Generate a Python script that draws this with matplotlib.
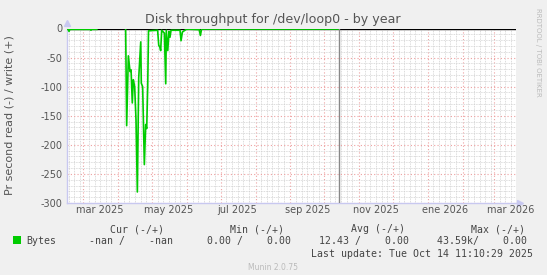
import numpy as np
import pandas as pd
import matplotlib
matplotlib.use("Agg")
from matplotlib import pyplot as plt
import matplotlib.dates as mdates

# days since 2025-03-01 and read throughput (drawn negative)
base_date = pd.Timestamp("2025-03-01")
day_offset = [-14.5, -13.5, -12.7, -12.0, -8.0, -2.0, 3.0, 6.0, 6.8, 7.5, 12.0, 12.5,
              37.6, 38.5, 40.0, 41.5, 42.4, 43.5, 44.4, 45.6, 46.8, 48.0, 49.2, 51.0,
              51.5, 52.7, 54.2, 55.4, 56.3, 57.2, 57.9, 66.0, 67.0, 68.0, 68.7, 69.6,
              72.0, 73.2, 73.7, 75.0, 76.1, 77.0, 77.9, 85.9, 86.8, 88.0, 91.8, 103.0,
              104.0, 105.0, 150.0, 227.0]
read_bytes = [-1.5, -1.5, -5, -1.5, -1.5, -1.5, -1.5, -1.5, -3, -1.5, -1.5, np.nan,
              -1, -167, -47, -74, -71, -128, -88, -100, -157, -281, -85, -23,
              -94, -100, -234, -165, -172, -98, -4, -3, -29, -32, -38, -3,
              -8, -95, -3, -38, -5, -15, -3, -3, -21, -6, -1, -2,
              -12, -1, -1, -1]

x_start = "2025-02-14 12:00"
x_end = "2026-03-20 08:00"
last_update = "2025-10-14 11:10"

month_labels = ["mar 2025", "may 2025", "jul 2025", "sep 2025", "nov 2025", "ene 2026", "mar 2026"]
month_label_dates = ["2025-03-16", "2025-05-16", "2025-07-16", "2025-09-16",
                     "2025-11-16", "2026-01-16", "2026-03-16"]
y_ticks = [0, -50, -100, -150, -200, -250, -300]

legend_headers = ["Cur (-/+)", "Min (-/+)", "Avg (-/+)", "Max (-/+)"]
legend_values = ["-nan /    -nan", "0.00 /    0.00", "12.43 /    0.00", "43.59k/    0.00"]

W, H = 547, 275
BG = "#f0f0f0"
GREEN = "#00cc00"
TXT = "#555555"


def px(x, y):
    return x / W, 1 - y / H


fig = plt.figure(figsize=(W / 100, H / 100), dpi=100, facecolor=BG)
ax = fig.add_axes([67 / W, 72 / H, 449 / W, 174.5 / H])
ax.set_facecolor("white")

dates = base_date + pd.to_timedelta(day_offset, unit="D")
x0, x1 = pd.Timestamp(x_start), pd.Timestamp(x_end)

# grid
ax.xaxis.set_major_locator(mdates.MonthLocator())
ax.xaxis.set_minor_locator(mdates.DayLocator(bymonthday=[6, 11, 16, 21, 26]))
ax.set_yticks(y_ticks)
ax.set_yticks(np.arange(-300, 1, 10), minor=True)
ax.grid(which="minor", color="#d0d0d0", linestyle=(0, (1, 1)), linewidth=0.6)
ax.grid(which="major", color="#eea0a0", linestyle=(0, (1, 2)), linewidth=0.8)
ax.set_axisbelow(True)

ax.axhline(0, color="black", linewidth=1.0, zorder=2)
ax.plot(dates, read_bytes, color=GREEN, linewidth=1.2, zorder=3)
ax.axvline(pd.Timestamp(last_update), color="#888888", linewidth=1.0, zorder=3)

ax.set_xlim(x0, x1)
ax.set_ylim(-300, 0)

ax.tick_params(which="both", length=0, labelsize=7, colors=TXT, pad=3)
ax.xaxis.set_major_formatter(plt.NullFormatter())
ax.set_yticklabels([str(v) for v in y_ticks])
for lab, d in zip(month_labels, month_label_dates):
    ax.text(pd.Timestamp(d), -304, lab, ha="center", va="top", fontsize=7, color=TXT)

for side in ["top", "right"]:
    ax.spines[side].set_visible(False)
for side in ["left", "bottom"]:
    ax.spines[side].set_color("#c8c8f0")
    ax.spines[side].set_linewidth(1.0)
ax.plot([0], [1.03], marker="^", color="#c8c8f0", markersize=4, transform=ax.transAxes, clip_on=False)
ax.plot([1.008], [0], marker=">", color="#c8c8f0", markersize=4, transform=ax.transAxes, clip_on=False)

fig.text(*px(273, 19), "Disk throughput for /dev/loop0 - by year", ha="center", va="center",
         fontsize=9.1, color=TXT)
fig.text(*px(10, 115), "Pr second read (-) / write (+)", ha="center", va="center",
         rotation=90, fontsize=8, color=TXT)
fig.text(*px(538, 52), "RRDTOOL / TOBI OETIKER", ha="center", va="center",
         rotation=270, fontsize=5, color="#bbbbbb")

mono = dict(family="DejaVu Sans Mono", fontsize=7.1, color="#444444", va="center")
for hdr, right in zip(legend_headers, [164, 284, 405, 525]):
    fig.text(*px(right, 229), hdr, ha="right", **mono)
fig.patches.append(plt.Rectangle(px(13, 244), 8 / W, 8 / H, transform=fig.transFigure,
                                 facecolor=GREEN, edgecolor="none"))
fig.text(*px(26, 241), "Bytes", ha="left", **mono)
for val, right in zip(legend_values, [173, 291, 409, 527]):
    fig.text(*px(right, 241), val, ha="right", **mono)
fig.text(*px(533, 254), "Last update: Tue Oct 14 11:10:29 2025", ha="right", **mono)
fig.text(*px(273, 267), "Munin 2.0.75", ha="center", va="center", fontsize=5.5, color="#bbbbbb")

fig.savefig("out.png", dpi=100, facecolor=BG)
